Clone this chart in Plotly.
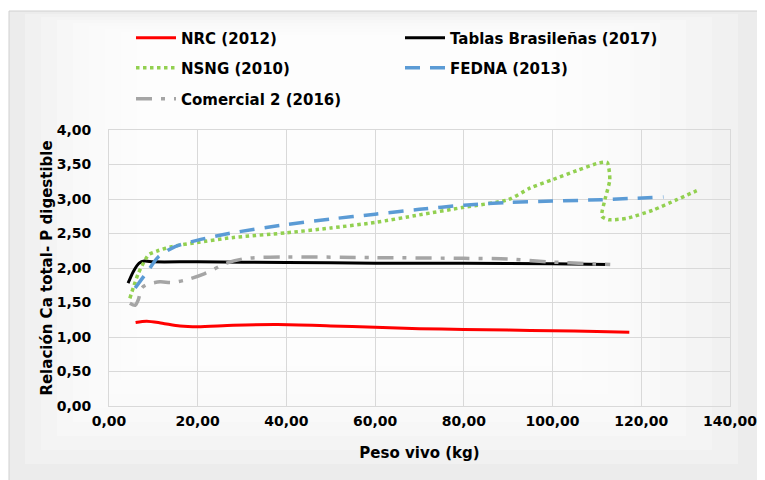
import plotly.graph_objects as go

# ---- data ----
nrc_x = [6.0, 8.5, 12, 16, 20, 28, 38, 50, 60, 70, 80, 90, 100, 110, 117.3]
nrc_y = [1.21, 1.23, 1.20, 1.16, 1.15, 1.17, 1.18, 1.16, 1.14, 1.12, 1.11, 1.10, 1.09, 1.08, 1.07]

tab_x = [4.3, 5.5, 6.8, 8.0, 10, 20, 40, 60, 80, 100, 112.5]
tab_y = [1.78, 1.95, 2.07, 2.10, 2.09, 2.09, 2.08, 2.07, 2.07, 2.06, 2.05]

nsng_x = [4.7, 5.5, 6.6, 8.9, 11, 14.1, 19.8, 27.7, 40, 50, 60, 70, 80, 90, 95, 100,
          105.4, 110.3, 112.3, 112.9, 111.8, 111.1, 112.6, 116.7, 122.7, 128, 132.5]
nsng_y = [1.56, 1.72, 1.92, 2.19, 2.25, 2.31, 2.37, 2.44, 2.51, 2.58, 2.66, 2.77, 2.88, 2.99, 3.16, 3.28,
          3.41, 3.52, 3.53, 3.28, 2.99, 2.75, 2.70, 2.72, 2.84, 2.99, 3.12]

fed_x = [5.9, 7.5, 8.9, 11.1, 14.9, 19.8, 27, 40, 50, 60, 70, 80, 90, 100, 111, 125]
fed_y = [1.71, 1.85, 1.97, 2.16, 2.31, 2.40, 2.50, 2.63, 2.71, 2.78, 2.85, 2.91, 2.95, 2.97, 2.99, 3.03]

com_x = [4.7, 5.9, 6.6, 7.4, 8.5, 11.5, 14.1, 17.5, 21.6, 26.5, 31, 40, 60, 80, 90, 99, 109, 113]
com_y = [1.49, 1.46, 1.54, 1.71, 1.76, 1.80, 1.79, 1.83, 1.92, 2.07, 2.14, 2.16, 2.15, 2.14, 2.13, 2.09, 2.06, 2.05]

x_ticks = [0, 20, 40, 60, 80, 100, 120, 140]
y_ticks = [0, 0.5, 1.0, 1.5, 2.0, 2.5, 3.0, 3.5, 4.0]

FONT = "DejaVu Sans"
W, H = 757, 472          # page body adds an 8px offset
PL, PR, PT, PB = 101, 722, 122, 398   # plot area in figure pixels
PW, PH = PR - PL, PB - PT

def px_x(v):
    return (v - PL) / PW

def px_y(v):
    return (PB - v) / PH

fig = go.Figure()
fig.add_trace(go.Scatter(x=nrc_x, y=nrc_y, name="NRC (2012)", mode="lines", legend="legend",
                         line=dict(color="#FF0000", width=3, shape="spline", smoothing=0.8)))
fig.add_trace(go.Scatter(x=tab_x, y=tab_y, name="Tablas Brasileñas (2017)", mode="lines", legend="legend",
                         line=dict(color="#000000", width=3, shape="spline", smoothing=0.7)))
fig.add_trace(go.Scatter(x=nsng_x, y=nsng_y, name="NSNG (2010)", mode="lines", legend="legend2",
                         line=dict(color="#92D050", width=3.5, dash="dot", shape="spline", smoothing=0.6)))
fig.add_trace(go.Scatter(x=fed_x, y=fed_y, name="FEDNA (2013)", mode="lines", legend="legend2",
                         line=dict(color="#5B9BD5", width=3.5, dash="15px,10px", shape="spline", smoothing=0.8)))
fig.add_trace(go.Scatter(x=com_x, y=com_y, name="Comercial 2 (2016)", mode="lines", legend="legend3",
                         line=dict(color="#A5A5A5", width=3.5, dash="16px,9px,4px,9px", shape="spline", smoothing=0.8)))

# background: bordered chart area with soft radial-like shading
BX0, BY0, BX1, BY1 = 1, 3, 756, 470
shapes = [dict(type="rect", xref="paper", yref="paper", layer="below",
               x0=px_x(BX0), x1=px_x(BX1 + 20), y0=px_y(BY1 + 20), y1=px_y(BY0),
               fillcolor="#ececec", line=dict(color="#d0d0d0", width=1))]
for i in range(1, 11):
    shapes.append(dict(type="rect", xref="paper", yref="paper", layer="below",
                       x0=px_x(BX0 + i * 16), x1=px_x(BX1 - i * 26),
                       y0=px_y(BY1 - i * 14), y1=px_y(BY0 + i * 3),
                       fillcolor="rgba(255,255,255,0.26)", line=dict(width=0)))

leg_common = dict(orientation="h", xanchor="left", yanchor="middle", bgcolor="rgba(0,0,0,0)",
                  xref="container", yref="container",
                  entrywidth=214, font=dict(family=FONT, size=15, color="#000000", weight="bold"),
                  itemwidth=40)
lx = 123 / W

fig.update_layout(
    width=W, height=H,
    margin=dict(l=PL, r=W - PR, t=PT, b=H - PB, autoexpand=False),
    paper_bgcolor="#ffffff", plot_bgcolor="rgba(0,0,0,0)",
    separators=",.",
    shapes=shapes,
    legend=dict(x=lx, y=1 - 30 / H, **leg_common),
    legend2=dict(x=lx, y=1 - 60 / H, **leg_common),
    legend3=dict(x=lx, y=1 - 91 / H, **leg_common),
    xaxis=dict(range=[0, 140], tickvals=x_ticks, tickformat=".2f",
               showgrid=True, gridcolor="#d9d9d9", gridwidth=1, zeroline=False,
               showline=True, linecolor="#d9d9d9", linewidth=1, mirror=True,
               ticks="", ticklabelstandoff=2,
               tickfont=dict(family=FONT, size=14, color="#000000", weight="bold"),
               title=dict(text="Peso vivo (kg)", standoff=19,
                          font=dict(family=FONT, size=15, color="#000000", weight="bold"))),
    yaxis=dict(range=[0, 4], tickvals=y_ticks, tickformat=".2f",
               showgrid=True, gridcolor="#d9d9d9", gridwidth=1, zeroline=False,
               showline=True, linecolor="#d9d9d9", linewidth=1, mirror=True,
               ticks="", ticklabelstandoff=14,
               tickfont=dict(family=FONT, size=14, color="#000000", weight="bold"),
               title=dict(text="Relación Ca total- P digestible", standoff=0,
                          font=dict(family=FONT, size=15, color="#000000", weight="bold"))),
)

fig.write_html("out.html")
